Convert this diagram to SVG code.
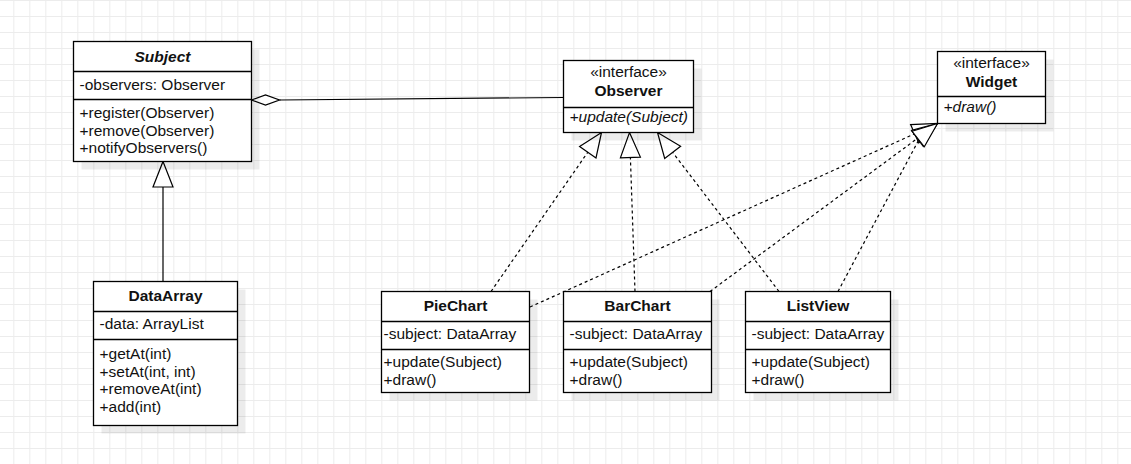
<svg xmlns="http://www.w3.org/2000/svg" width="1131" height="464" viewBox="0 0 1131 464">
<defs>
<pattern id="grid" x="13.3" y="0" width="16" height="16" patternUnits="userSpaceOnUse">
<path d="M0.5 0V16M0 0.5H16" fill="none" stroke="#ececec" stroke-width="1.1"/>
</pattern>
<style>
.box{fill:#fff;stroke:#000;stroke-width:1.3}
.sh{fill:#000;fill-opacity:0.075}
.div{stroke:#000;stroke-width:1.3}
text{font-family:"Liberation Sans",Arial,sans-serif;font-size:15.5px;fill:#111}
.t{font-weight:bold;text-anchor:middle}
.c{text-anchor:middle}
.i{font-style:italic}
.ln{fill:none;stroke:#000;stroke-width:1.2}
.dash{fill:none;stroke:#000;stroke-width:1.2;stroke-dasharray:3 3}
.tri{fill:#fff;stroke:#000;stroke-width:1.2;stroke-linejoin:miter}
</style>
</defs>
<rect width="1131" height="464" fill="#fff"/>
<rect width="1131" height="464" fill="url(#grid)"/>

<g id="connectors">
<!-- Subject aggregation Observer -->
<path class="ln" d="M279.5 100L563.5 97.5"/>
<path class="tri" d="M251.5 100L265.5 95L279.5 100L265.5 105Z"/>
<!-- DataArray extends Subject -->
<path class="ln" d="M163 281.5V187"/>
<path class="tri" d="M163 161.5L173 187H153Z"/>
<!-- PieChart realizes Observer -->
<path class="dash" d="M491 291.5L587.8 152.2"/>
<path class="tri" d="M601.5 132.5L596 157.9L579.6 146.5Z"/>
<!-- BarChart realizes Observer -->
<path class="dash" d="M635 291.5L630.4 157.5"/>
<path class="tri" d="M629.5 132.5L640.4 157.1L620.4 157.8Z"/>
<!-- ListView realizes Observer -->
<path class="dash" d="M779 291.5L672.7 152.4"/>
<path class="tri" d="M657.5 132.5L680.6 146.3L664.7 158.5Z"/>
<!-- PieChart realizes Widget -->
<path class="dash" d="M530 307L914.7 133.8"/>
<path class="tri" d="M937.5 123.5L918.8 142.9L910.6 124.6Z"/>
<!-- BarChart realizes Widget -->
<path class="dash" d="M710 291.5L917.4 138.4"/>
<path class="tri" d="M937.5 123.5L923.3 146.4L911.5 130.3Z"/>
<!-- ListView realizes Widget -->
<path class="dash" d="M838 291.5L919 139.5"/>
<path class="tri" d="M937.5 123.5L924.3 146.8L912.1 131.3Z"/>
</g>

<g id="Subject">
<rect class="sh" x="81.5" y="49.5" width="178" height="120"/>
<rect class="box" x="73.5" y="41.5" width="178" height="120"/>
<path class="div" d="M73.5 71.5H251.5M73.5 99.5H251.5"/>
<text class="t i" x="162.5" y="61.5">Subject</text>
<text x="79.5" y="89.5">-observers: Observer</text>
<text x="79.5" y="118">+register(Observer)</text>
<text x="79.5" y="135.5">+remove(Observer)</text>
<text x="79.5" y="153">+notifyObservers()</text>
</g>

<g id="Observer">
<rect class="sh" x="571.5" y="68.5" width="130" height="72"/>
<rect class="box" x="563.5" y="60.5" width="130" height="72"/>
<path class="div" d="M563.5 107.5H693.5"/>
<text class="c" x="628.5" y="77">«interface»</text>
<text class="t" x="628.5" y="95.5">Observer</text>
<text class="i" x="569.5" y="121.5">+update(Subject)</text>
</g>

<g id="Widget">
<rect class="sh" x="945.5" y="59.5" width="108" height="72"/>
<rect class="box" x="937.5" y="51.5" width="108" height="72"/>
<path class="div" d="M937.5 96.5H1045.5"/>
<text class="c" x="991.5" y="68">«interface»</text>
<text class="t" x="991.5" y="86.5">Widget</text>
<text class="i" x="943.5" y="112">+draw()</text>
</g>

<g id="DataArray">
<rect class="sh" x="101.5" y="289.5" width="144" height="144"/>
<rect class="box" x="93.5" y="281.5" width="144" height="144"/>
<path class="div" d="M93.5 311.5H237.5M93.5 339.5H237.5"/>
<text class="t" x="165.5" y="300.5">DataArray</text>
<text x="99.5" y="329">-data: ArrayList</text>
<text x="99.5" y="359">+getAt(int)</text>
<text x="99.5" y="376.5">+setAt(int, int)</text>
<text x="99.5" y="394">+removeAt(int)</text>
<text x="99.5" y="411.5">+add(int)</text>
</g>

<g id="PieChart">
<rect class="sh" x="389.5" y="299.5" width="148" height="101"/>
<rect class="box" x="381.5" y="291.5" width="148" height="101"/>
<path class="div" d="M381.5 321.5H529.5M381.5 349.5H529.5"/>
<text class="t" x="455.5" y="310.5">PieChart</text>
<text x="383.5" y="339">-subject: DataArray</text>
<text x="383.5" y="367">+update(Subject)</text>
<text x="383.5" y="384.5">+draw()</text>
</g>

<g id="BarChart">
<rect class="sh" x="571.5" y="299.5" width="148" height="101"/>
<rect class="box" x="563.5" y="291.5" width="148" height="101"/>
<path class="div" d="M563.5 321.5H711.5M563.5 349.5H711.5"/>
<text class="t" x="637.5" y="310.5">BarChart</text>
<text x="569.5" y="339">-subject: DataArray</text>
<text x="569.5" y="367">+update(Subject)</text>
<text x="569.5" y="384.5">+draw()</text>
</g>

<g id="ListView">
<rect class="sh" x="753.5" y="299.5" width="145" height="101"/>
<rect class="box" x="745.5" y="291.5" width="145" height="101"/>
<path class="div" d="M745.5 321.5H890.5M745.5 349.5H890.5"/>
<text class="t" x="818" y="310.5">ListView</text>
<text x="751.5" y="339">-subject: DataArray</text>
<text x="751.5" y="367">+update(Subject)</text>
<text x="751.5" y="384.5">+draw()</text>
</g>
</svg>
